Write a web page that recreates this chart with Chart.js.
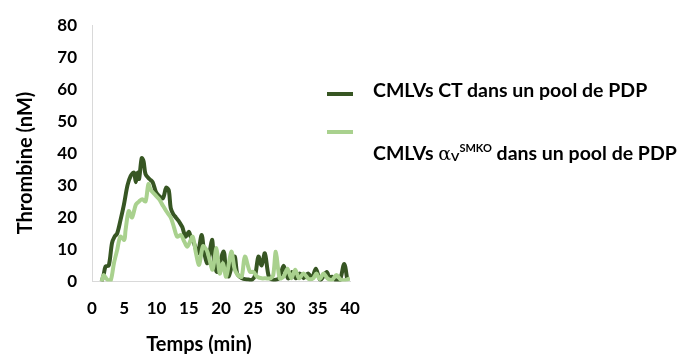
<!DOCTYPE html>
<html>
<head>
<meta charset="utf-8">
<script src="https://cdn.jsdelivr.net/npm/chart.js@4/dist/chart.umd.min.js"></script>
<style>
  html, body { margin: 0; padding: 0; background: #ffffff; }
  #wrap { position: relative; width: 681px; height: 354px; overflow: hidden; }
  #c { position: absolute; left: 0; top: 0; }
  .lg { position: absolute; font-family: Lato, "Open Sans", sans-serif; font-weight: bold; font-size: 19.5px; line-height: 1.2; color: #000; white-space: nowrap; }
  .mk { position: absolute; width: 26px; height: 4px; }
</style>
</head>
<body>
<div id="wrap">
  <canvas id="c" width="681" height="354"></canvas>
  <div class="mk" id="mk1" style="left:327px; top:92px;"></div>
  <div class="lg" style="left:373px; top:78px;">CMLVs CT dans un pool de PDP</div>
  <div class="mk" id="mk2" style="left:327px; top:130px;"></div>
  <div class="lg" style="left:373px; top:141px;">CMLVs <span style="font-weight:normal; font-family:'DejaVu Serif', serif; font-size:19px;">α</span><span style="font-size:12px; vertical-align:-1px;">V</span><span style="font-size:11px; vertical-align:8px;">SMKO</span> dans un pool de PDP</div>
</div>
<script>
// ---- data ----
const seriesNames = ["CMLVs CT dans un pool de PDP", "CMLVs αV SMKO dans un pool de PDP"];

const timesCT  = [1.5, 1.8, 2.1, 2.6, 3.1, 3.5, 3.9, 4.4, 4.95, 5.5, 6.0, 6.5, 6.8, 7.1, 7.3, 7.7, 8.0, 8.3, 8.9, 9.4, 9.9, 10.4, 11.0, 11.5, 11.9, 12.2, 12.6, 13.0, 13.4, 13.7, 14.0, 14.5, 15.0, 15.3, 15.8, 16.4, 17.0, 17.4, 17.9, 18.6, 18.9, 19.4, 20.4, 20.8, 21.2, 22.1, 22.5, 22.9, 23.5, 24.2, 24.8, 25.3, 25.8, 26.3, 26.8, 27.4, 28.0, 29.0, 29.7, 30.4, 31.0, 31.6, 32.2, 32.8, 33.5, 34.1, 34.7, 35.4, 36.4, 36.8, 37.2, 37.7, 38.4, 39.1, 39.6];
const valuesCT = [0, 2, 4.7, 5, 12, 14, 15, 19, 24, 30, 33, 34, 31, 34, 32, 38.5, 37.5, 33.5, 32, 31, 28, 26.7, 26, 29.3, 28.5, 23, 21, 20, 19, 18, 17, 14, 15.5, 14, 12, 8.8, 14.5, 9, 5.7, 13, 7, 3, 9.4, 3, 1.6, 7.8, 2.5, 1.5, 0.8, 0.6, 0.5, 2, 7.8, 5, 8.8, 1.6, 0.5, 1, 4.9, 1, 3, 1, 2.5, 1, 2.5, 1, 4, 0.5, 3, 1, 1.5, 0.5, 0.3, 5.5, 0.3];

const timesKO  = [1.5, 1.8, 2.4, 2.9, 3.4, 3.9, 4.4, 5.0, 5.2, 5.7, 6.2, 6.8, 7.3, 7.8, 8.3, 8.75, 9.1, 9.9, 10.4, 10.9, 11.5, 12.2, 12.7, 13.2, 13.8, 14.3, 14.8, 15.6, 16.1, 16.6, 17.2, 17.8, 18.2, 18.7, 19.3, 19.8, 20.3, 20.8, 21.6, 22.1, 22.6, 23.2, 23.7, 24.5, 25.0, 25.6, 26.3, 26.9, 27.7, 28.1, 28.5, 29.1, 29.7, 30.3, 30.9, 31.5, 32.1, 32.8, 33.6, 34.3, 34.8, 35.3, 35.9, 36.5, 37.2, 37.9, 38.6, 39.4, 40.0];
const valuesKO = [0, 2, 0.5, 0.3, 5.7, 9.8, 14, 13, 16, 22, 20, 24, 25, 25.7, 25, 30.4, 28.6, 26.8, 25.7, 24, 22, 20, 17, 14, 14.5, 12.5, 10.9, 14, 9, 5.2, 11, 9.7, 7, 3.7, 10.4, 2.5, 5.7, 1.5, 9.3, 4, 2, 1.5, 7.8, 3, 3, 1.5, 1, 1, 1, 2, 9.3, 1, 1.5, 4, 1, 3.7, 1, 2.5, 0.8, 1, 2.5, 0.8, 2.5, 1, 0.5, 2, 0.5, 0.5, 1];

const xTicks = [0, 5, 10, 15, 20, 25, 30, 35, 40];
const yTicks = [0, 10, 20, 30, 40, 50, 60, 70, 80];
const xTitle = "Temps (min)";
const yTitle = "Thrombine (nM)";

// ---- styles ----
const DARK = "#375623";
const LIGHT = "#A9D18E";
document.getElementById("mk1").style.background = DARK;
document.getElementById("mk2").style.background = LIGHT;

const toPts = (ts, vs) => ts.map((t, i) => ({ x: t, y: vs[i] }));

const titlePlugin = {
  id: "axisTitles",
  afterDraw(chart) {
    const ctx = chart.ctx;
    ctx.save();
    ctx.fillStyle = "#000";
    ctx.font = "bold 20px Lato, 'Open Sans', sans-serif";
    ctx.textAlign = "center";
    ctx.textBaseline = "alphabetic";
    ctx.fillText(xTitle, 199, 351);
    ctx.translate(32, 163);
    ctx.rotate(-Math.PI / 2);
    ctx.fillText(yTitle, 0, 0);
    ctx.restore();
  }
};

const tickFont = { family: "Lato, 'Open Sans', sans-serif", weight: "bold", size: 17 };

new Chart(document.getElementById("c"), {
  type: "line",
  data: {
    datasets: [
      { label: seriesNames[0], data: toPts(timesCT, valuesCT), borderColor: DARK, backgroundColor: DARK, borderWidth: 4, pointRadius: 0, tension: 0.3, order: 1, fill: false },
      { label: seriesNames[1], data: toPts(timesKO, valuesKO), borderColor: LIGHT, backgroundColor: LIGHT, borderWidth: 4, pointRadius: 0, tension: 0.3, order: 0, fill: false }
    ]
  },
  options: {
    responsive: false,
    animation: false,
    layout: { padding: { top: 21.7, right: 331, bottom: 0, left: 0 } },
    plugins: { legend: { display: false }, tooltip: { enabled: false }, title: { display: false } },
    scales: {
      x: {
        type: "linear", min: 0, max: 40,
        afterBuildTicks: (s) => { s.ticks = xTicks.map(v => ({ value: v })); },
        afterFit: (s) => { s.height = 72.5; },
        grid: { display: false, drawTicks: false },
        border: { display: true, color: "#d9d9d9", width: 1 },
        ticks: { font: tickFont, color: "#000", padding: 17, maxRotation: 0, autoSkip: false }
      },
      y: {
        type: "linear", min: 0, max: 80,
        afterBuildTicks: (s) => { s.ticks = yTicks.map(v => ({ value: v })); },
        afterFit: (s) => { s.width = 92; },
        grid: { display: false, drawTicks: false },
        border: { display: true, color: "#d9d9d9", width: 1 },
        ticks: { font: tickFont, color: "#000", padding: 15, autoSkip: false }
      }
    }
  },
  plugins: [titlePlugin]
});
</script>
</body>
</html>
